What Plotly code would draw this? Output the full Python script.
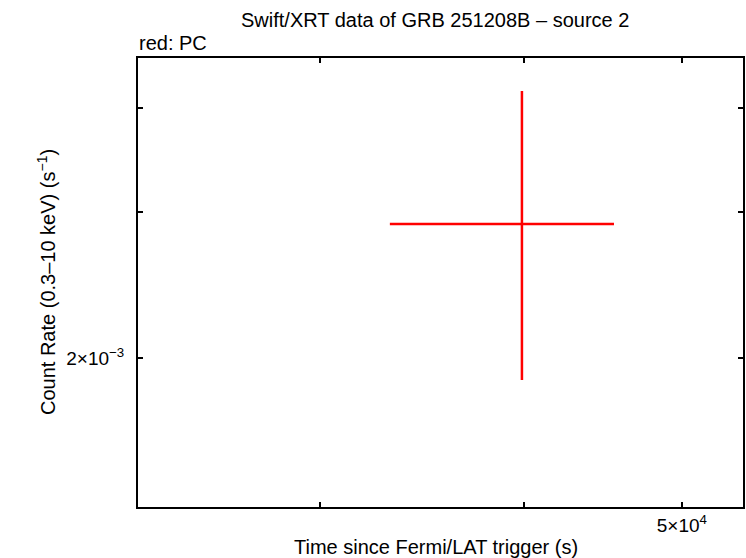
import plotly.graph_objects as go

# Data
time_s = [39890.0]
time_err_minus = [39890.0 - 33100.0]
time_err_plus = [45430.0 - 39890.0]
rate = [2.903e-3]
rate_err_minus = [2.903e-3 - 1.884e-3]
rate_err_plus = [4.198e-3 - 2.903e-3]

x_tickvals = [3e4, 4e4, 5e4]
x_ticktext = ["", "", "5×10<sup>4</sup>"]
y_tickvals = [2e-3, 3e-3, 4e-3]
y_ticktext = ["2×10<sup>−3</sup>", "", ""]

FONT = "Liberation Sans, Arial, sans-serif"
L, R, T, B = 138, 743, 58, 507
W, H = 746, 558
PW, PH = R - L, B - T


def px(xp):
    return (xp - L) / PW


def py(yp):
    return (B - yp) / PH


fig = go.Figure()
fig.add_trace(go.Scatter(
    x=time_s, y=rate, mode="markers",
    marker=dict(size=0.1, color="red", opacity=0),
    error_x=dict(type="data", symmetric=False, array=time_err_plus,
                 arrayminus=time_err_minus, color="red", thickness=2.5, width=0),
    error_y=dict(type="data", symmetric=False, array=rate_err_plus,
                 arrayminus=rate_err_minus, color="red", thickness=2.5, width=0),
    showlegend=False, hoverinfo="skip",
))

axis_common = dict(
    showgrid=False, zeroline=False, showline=True, linecolor="black",
    linewidth=2, mirror="ticks", ticks="inside", ticklen=5, tickwidth=2,
    tickcolor="black", tickfont=dict(family=FONT, size=19, color="black"),
    automargin=False,
)

fig.update_xaxes(type="log", range=[4.3653, 4.7365], tickmode="array",
                 tickvals=x_tickvals, ticktext=x_ticktext, **axis_common)
fig.update_yaxes(type="log", range=[-2.8779, -2.3372], tickmode="array",
                 tickvals=y_tickvals, ticktext=y_ticktext,
                 ticklabelstandoff=8, **axis_common)

tfont = dict(family=FONT, size=20, color="black")
fig.update_layout(
    width=W, height=H,
    margin=dict(l=L, r=W - R, t=T, b=H - B),
    paper_bgcolor="white", plot_bgcolor="white",
    annotations=[
        dict(text="Swift/XRT data of GRB 251208B – source 2", xref="paper",
             yref="paper", x=px(435), y=py(20), xanchor="center",
             yanchor="middle", showarrow=False, font=tfont),
        dict(text="red: PC", xref="paper", yref="paper", x=px(137),
             y=py(43), xanchor="left", yanchor="middle", showarrow=False,
             font=tfont),
        dict(text="Time since Fermi/LAT trigger (s)", xref="paper",
             yref="paper", x=px(436), y=py(547), xanchor="center",
             yanchor="middle", showarrow=False, font=tfont),
        dict(text="Count Rate (0.3–10 keV) (s<sup>−1</sup>)", xref="paper",
             yref="paper", x=px(46), y=py(282), xanchor="center",
             yanchor="middle", textangle=-90, showarrow=False, font=tfont),
    ],
)

fig.write_html(
    "out.html",
    config={"displayModeBar": False},
    post_script="document.body.style.margin='0';document.body.style.padding='0';document.body.style.overflow='hidden';",
)
